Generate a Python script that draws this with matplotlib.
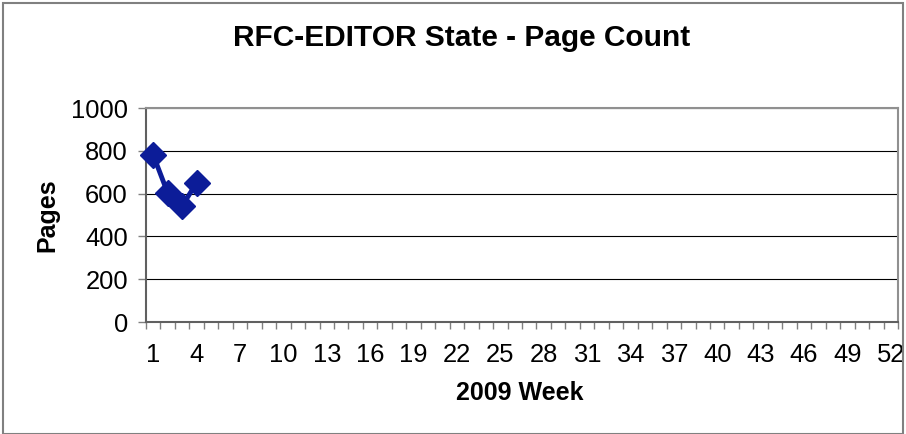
import matplotlib
matplotlib.use("Agg")
import matplotlib.pyplot as plt
from matplotlib.patches import Rectangle

weeks = [1, 2, 3, 4]
pages = [780, 603, 542, 651]
tick_weeks = list(range(1, 53, 3))
title = "RFC-EDITOR State - Page Count"
ylabel = "Pages"
xlabel = "2009 Week"

plt.rcParams['font.family'] = ['Liberation Sans', 'DejaVu Sans']

W, H = 906, 434
fig = plt.figure(figsize=(W/100, H/100), dpi=100)
ax = fig.add_axes([146/W, 1-322/H, (898-146)/W, (322-108)/H])

ax.plot(weeks, pages, color='#0c1c98', lw=3.5, marker='D', markersize=13,
        markerfacecolor='#0c1c98', markeredgecolor='#0c1c98', zorder=3, clip_on=False)

ax.set_xlim(0.5, 52.5)
ax.set_ylim(0, 1000)
ax.set_yticks(range(0, 1001, 200))
for y in range(200, 1001, 200):
    ax.axhline(y, color='#000000', lw=0.8, zorder=1)
ax.set_xticks(tick_weeks)
ax.set_xticks([x + 0.5 for x in range(0, 53)], minor=True)
ax.tick_params(axis='x', which='major', length=0, labelsize=18.4, pad=15)
ax.tick_params(axis='x', which='minor', length=5, color='#808080', width=1)
ax.tick_params(axis='y', which='major', length=6, color='#808080', width=1, labelsize=18.4, pad=7)

for s in ['left', 'bottom']:
    ax.spines[s].set_color('#606060')
    ax.spines[s].set_linewidth(1.5)
for s in ['top', 'right']:
    ax.spines[s].set_color('#909090')
    ax.spines[s].set_linewidth(1.5)

fig.text(462/W, 1-38/H, title, fontsize=21.5, fontweight='bold', ha='center', va='center')
fig.text(47/W, 1-215/H, ylabel, fontsize=18, fontweight='bold', ha='center', va='center', rotation=90)
fig.text(520/W, 1-393/H, xlabel, fontsize=18, fontweight='bold', ha='center', va='center')

fig.patches.append(Rectangle((3/W, 0), 1 - 6/W, 1 - 3/H, transform=fig.transFigure,
                             fill=False, edgecolor='#808080', lw=1.5))

fig.savefig('out.png', dpi=100)
